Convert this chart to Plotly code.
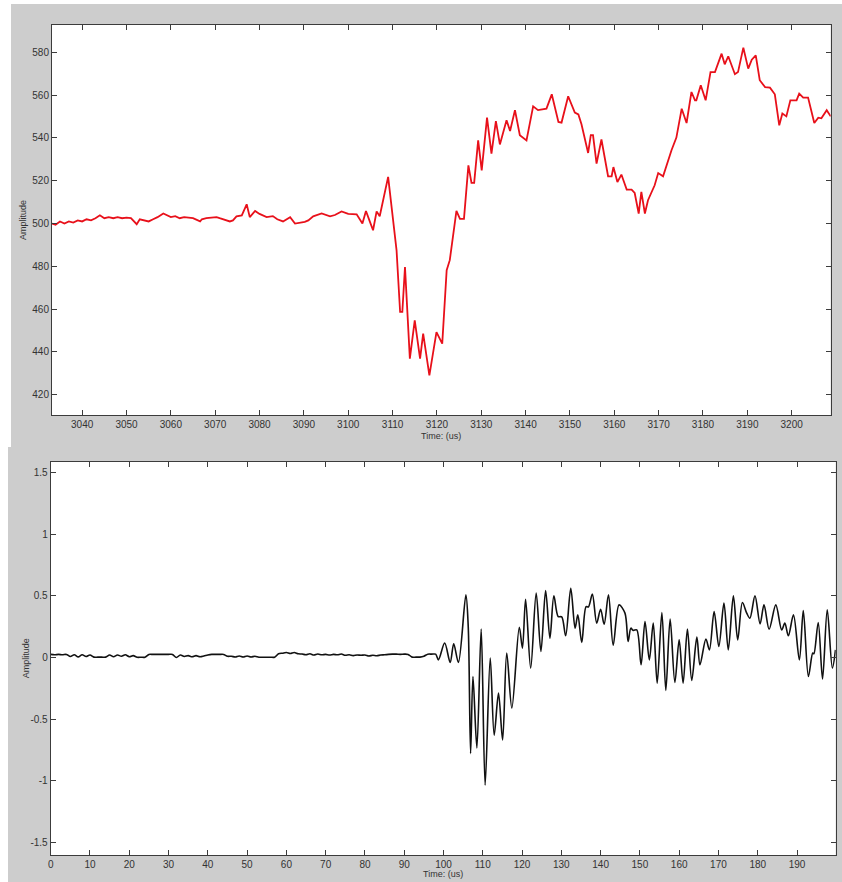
import plotly.graph_objects as go

# ---------------- data ----------------
top_t = [3033.2, 3034, 3035, 3036, 3037, 3038, 3039, 3040, 3041, 3042, 3043, 3044, 3045, 3046,
         3047, 3048, 3049, 3050, 3051, 3052.3, 3053, 3054, 3055, 3056, 3057, 3058.3, 3059, 3060,
         3061, 3062, 3063, 3064, 3065, 3066.6, 3067, 3068, 3069, 3070.3, 3071, 3072, 3073.3, 3074,
         3074.8, 3076, 3077.1, 3077.8, 3079, 3080, 3081.6, 3083, 3084, 3085.3, 3086.9, 3088,
         3090.2, 3091, 3092.1, 3094, 3095.9, 3097, 3098.5, 3100, 3101.9, 3103.2, 3104, 3104.9,
         3105.6, 3106.4, 3107.1, 3109, 3110.9, 3111.7, 3112.2, 3112.8, 3113.9, 3115, 3116.2,
         3116.9, 3118.3, 3119.9, 3121.2, 3122.2, 3122.9, 3124.4, 3125.2, 3126.1, 3127.1, 3127.8,
         3128.4, 3129.3, 3130.1, 3131.3, 3132.3, 3133.3, 3134.2, 3135.7, 3136.5, 3137.6, 3138.7,
         3140.2, 3141.7, 3142.8, 3144.7, 3145.9, 3147.4, 3148.1, 3149.6, 3151.1, 3151.9, 3152.6,
         3154.1, 3154.7, 3155.2, 3156, 3157.1, 3158.6, 3159.4, 3159.8, 3160.7, 3161.6, 3162.8,
         3163.9, 3164.6, 3165.5, 3166.1, 3166.9, 3167.6, 3169.1, 3169.9, 3171, 3172.9, 3174,
         3175.2, 3176.3, 3177.4, 3178.2, 3178.5, 3179.5, 3180.6, 3181.7, 3182.7, 3184.2, 3184.9,
         3185.7, 3187.2, 3187.9, 3189.1, 3190.2, 3191, 3191.9, 3192.8, 3194, 3195.1, 3196.2,
         3197.2, 3197.9, 3198.8, 3199.7, 3201.1, 3201.7, 3202.6, 3203.7, 3205.1, 3206, 3206.7,
         3207.9, 3208.8]
top_amp = [500, 499.5, 501, 500, 501, 500.5, 501.5, 501, 502, 501.5, 502.5, 503.9, 502.5, 503,
           502.5, 503, 502.5, 502.8, 502.5, 499.7, 502, 501.5, 501, 502, 503, 504.7, 504, 503,
           503.5, 502.5, 503, 502.8, 502.5, 501, 502, 502.5, 502.8, 503, 502.5, 502, 501, 501.5,
           503.4, 503.8, 509, 503, 505.9, 504.5, 503, 503.5, 502, 501, 503, 500,
           500.8, 501.5, 503.4, 504.7, 503.4, 504, 505.7, 504.5, 504.3, 500, 505.9, 500.8,
           496.9, 505.7, 503.4, 521.8, 487.5, 458.7, 458.7, 479.7, 436.9, 454.8, 436.9,
           448.6, 429.1, 449.3, 443.9, 478.2, 482.9, 505.9, 502.2, 502.2, 527.2, 519,
           519, 538.9, 524.9, 549.5, 532.7, 547.9, 537, 548.3, 543.3, 553, 541.3,
           538.9, 554.8, 553, 553.7, 560.4, 547.5, 547.2, 559.5, 551.9, 551, 546.4,
           533, 541.3, 541.3, 528, 539.3, 522.1, 522.1, 526.4, 519.4, 522.9, 515.9,
           515.9, 514.3, 504.7, 514.8, 504.7, 510.9, 517.9, 523.6, 522.1, 534.3, 540.2,
           553.7, 547, 561.5, 557.6, 557.6, 564.6, 557.6, 570.8, 570.8, 579.4, 574.4,
           578.2, 569.8, 570.8, 582.2, 572.4, 576.6, 578.6, 567, 563.8, 563.5, 560.4,
           545.9, 551.4, 550.1, 557.6, 557.6, 560.7, 558.9, 558.9, 547, 549.5, 549.2,
           553, 550.1]

bot_t = [0, 1, 2, 3, 4, 5, 6, 7, 8, 9, 10, 11, 12, 13, 14, 15, 16, 17, 18, 19, 20, 21, 22, 23,
         24, 25, 26, 27, 28, 29, 30, 31, 32, 33, 34, 35, 36, 37, 38, 39, 40, 41, 42, 43, 44, 45,
         46, 47, 48, 49, 50, 51, 52, 53, 54, 55, 56, 57, 58, 59, 60, 61, 62, 63, 64, 65, 66, 67,
         68, 69, 70, 71, 72, 73, 74, 75, 76, 77, 78, 79, 80, 81, 82, 83, 84, 85, 86, 87, 88, 89,
         90, 91, 92, 93, 94, 95, 96, 97, 98,
         98.7, 100.3, 101.7, 102.6, 103.8, 105.7, 106.3, 106.9, 107.5, 108.5, 109.6, 110.6,
         111.9, 112.9, 114.0, 115.05, 116.1, 117.4, 119.3, 120.1, 120.9, 122.2, 123.6, 124.8,
         126.0, 127.1, 128.1, 129.2, 130.1, 131.1, 132.4, 133.5, 134.2, 135.2, 136.3, 136.9,
         137.9, 139.0, 140.0, 140.9, 142.0, 143.2, 144.7, 146.2, 147.0, 147.7, 148.3, 149.2,
         150.3, 151.3, 152.4, 153.4, 154.4, 155.6, 156.6, 157.7, 158.9, 160.0, 161.0, 162.1,
         163.2, 164.5, 165.3, 166.8, 167.7, 168.9, 170.1, 171.4, 172.5, 173.8, 174.9, 176.1,
         177.2, 178.0, 179.3, 180.6, 181.6, 182.9, 184.6, 186.1, 186.9, 187.8, 189.1, 190.6,
         191.6, 192.9, 194.0, 194.3, 195.4, 196.5, 197.7, 199.0, 199.8]
bot_amp = [0.025, 0.022, 0.025, 0.022, 0.025, 0.008, 0.022, 0.005, 0.022, 0.008, 0.02, 0.003,
           0.003, 0.003, 0.003, 0.02, 0.006, 0.02, 0.01, 0.022, 0.006, 0.015, 0.002, 0.002,
           0.002, 0.025, 0.025, 0.025, 0.025, 0.025, 0.025, 0.025, 0.0, 0.02, 0.008, 0.015,
           0.006, 0.015, 0.006, 0.012, 0.02, 0.025, 0.025, 0.025, 0.025, 0.01, 0.01, 0.004,
           0.012, 0.004, 0.012, 0.004, 0.01, 0.002, 0.002, 0.002, 0.002, 0.002, 0.03, 0.035,
           0.04, 0.032, 0.04, 0.03, 0.028, 0.022, 0.03, 0.02, 0.028, 0.022, 0.025, 0.02, 0.025,
           0.022, 0.028, 0.018, 0.022, 0.015, 0.02, 0.018, 0.02, 0.012, 0.018, 0.014, 0.02,
           0.022, 0.025, 0.027, 0.027, 0.025, 0.027, 0.025, 0.003, 0.003, 0.003, 0.01, 0.027,
           0.027, 0.027,
           -0.019, 0.117, -0.04, 0.111, -0.04, 0.508, 0.25, -0.78, -0.154, -0.734, 0.23, -1.035,
           -0.005, -0.63, -0.289, -0.67, 0.036, -0.41, 0.246, 0.076, 0.473, -0.086, 0.522, 0.049,
           0.543, 0.157, 0.5, 0.332, 0.33, 0.176, 0.562, 0.238, 0.346, 0.122, 0.413, 0.41,
           0.514, 0.279, 0.392, 0.27, 0.508, 0.1, 0.427, 0.36, 0.13, 0.238, 0.22, 0.224,
           -0.059, 0.292, -0.019, 0.279, -0.208, 0.365, -0.267, 0.311, -0.202, 0.143, -0.208, 0.23,
           -0.186, 0.165, -0.059, 0.149, 0.062, 0.373, 0.089, 0.441, 0.062, 0.5, 0.143, 0.446,
           0.36, 0.319, 0.5, 0.273, 0.427, 0.23, 0.427, 0.224, 0.279, 0.176, 0.346, -0.019,
           0.381, -0.154, 0.036, 0.03, 0.284, -0.175, 0.387, -0.086, 0.062]

top_xticks = [3040, 3050, 3060, 3070, 3080, 3090, 3100, 3110, 3120, 3130, 3140, 3150, 3160,
              3170, 3180, 3190, 3200]
top_yticks = [420, 440, 460, 480, 500, 520, 540, 560, 580]
bot_xticks = [0, 10, 20, 30, 40, 50, 60, 70, 80, 90, 100, 110, 120, 130, 140, 150, 160, 170,
              180, 190]
bot_yticks = [-1.5, -1, -0.5, 0, 0.5, 1, 1.5]
bot_ytext = ["-1.5", "-1", "-0.5", "0", "0.5", "1", "1.5"]

x_title = "Time: (us)"
y_title = "Amplitude"

# ---------------- figure ----------------
W, H = 842, 882
FONT = "Liberation Sans, Arial, sans-serif"
GRAY = "#cdcdcd"
AX = "#3c3c3c"

fig = go.Figure()
fig.add_trace(go.Scatter(x=top_t, y=top_amp, mode="lines", xaxis="x", yaxis="y",
                         line=dict(color="#e8101a", width=1.8), showlegend=False))
fig.add_trace(go.Scatter(x=bot_t, y=bot_amp, mode="lines", xaxis="x2", yaxis="y2",
                         line=dict(color="#111111", width=1.6, shape="spline", smoothing=0.9),
                         showlegend=False))

common = dict(showgrid=False, zeroline=False, showline=True, linecolor=AX, linewidth=1,
              mirror="ticks", ticks="inside", ticklen=5, tickcolor=AX, tickwidth=1,
              tickfont=dict(family=FONT, size=10, color="#333333"), automargin=False)

def px_x(p):
    return p / W

def px_y(p):
    return 1 - p / H

white_strip = dict(type="rect", xref="paper", yref="paper", fillcolor="white",
                   line=dict(width=0), layer="below")

fig.update_layout(
    width=W, height=H,
    margin=dict(l=0, r=0, t=0, b=0),
    paper_bgcolor=GRAY, plot_bgcolor="white",
    xaxis=dict(domain=[px_x(52), px_x(830.7)], range=[3033.2, 3208.8], anchor="y",
               tickvals=top_xticks, **common),
    yaxis=dict(domain=[px_y(415.3), px_y(25)], range=[410.4, 592.8], anchor="x",
               tickvals=top_yticks, **common),
    xaxis2=dict(domain=[px_x(50.7), px_x(835.7)], range=[0, 199.85], anchor="y2",
                tickvals=bot_xticks, **common),
    yaxis2=dict(domain=[px_y(855), px_y(461.7)], range=[-1.603, 1.589], anchor="x2",
                tickvals=bot_yticks, ticktext=bot_ytext, **common),
    shapes=[
        dict(white_strip, x0=0, x1=1, y0=px_y(4), y1=1),
        dict(white_strip, x0=0, x1=px_x(11), y0=px_y(446), y1=1),
        dict(white_strip, x0=0, x1=px_x(8), y0=0, y1=1),
        dict(white_strip, x0=0, x1=px_x(11), y0=px_y(447), y1=px_y(446)),
    ],
    annotations=[
        dict(text=x_title, xref="paper", yref="paper", x=px_x(441.3), y=px_y(436),
             showarrow=False, font=dict(family=FONT, size=9, color="#333333"),
             xanchor="center", yanchor="middle"),
        dict(text=x_title, xref="paper", yref="paper", x=px_x(443.2), y=px_y(874),
             showarrow=False, font=dict(family=FONT, size=9, color="#333333"),
             xanchor="center", yanchor="middle"),
        dict(text=y_title, xref="paper", yref="paper", x=px_x(23), y=px_y(220),
             showarrow=False, textangle=-90, font=dict(family=FONT, size=9, color="#333333"),
             xanchor="center", yanchor="middle"),
        dict(text=y_title, xref="paper", yref="paper", x=px_x(26), y=px_y(658.3),
             showarrow=False, textangle=-90, font=dict(family=FONT, size=9, color="#333333"),
             xanchor="center", yanchor="middle"),
    ],
)

fig.write_html("out.html")
